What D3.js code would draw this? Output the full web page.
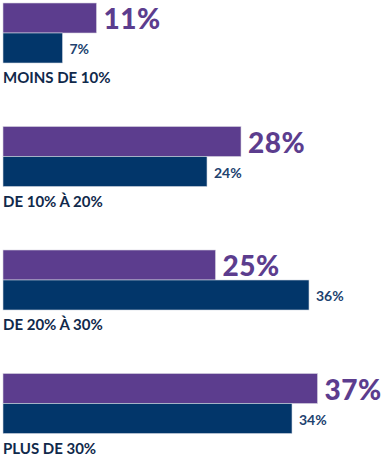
<!DOCTYPE html>
<html>
<head>
<meta charset="utf-8">
<script src="https://cdn.jsdelivr.net/npm/d3@7"></script>
<style>
  html, body { margin: 0; padding: 0; background: #fff; }
  svg { display: block; }
</style>
</head>
<body>
<svg id="chart" width="387" height="464"></svg>
<script>
// data
var categories = ["MOINS DE 10%", "DE 10% À 20%", "DE 20% À 30%", "PLUS DE 30%"];
var valuesA = [11, 28, 25, 37];   // purple, big label
var valuesB = [7, 24, 36, 34];    // navy, small label

var PURPLE = "#5c3d8e", NAVY = "#02366a";
var BAR_H = 30;

var svg = d3.select("#chart");

var x = d3.scaleLinear().domain([0, 37]).range([3, 317.5]);
var y = d3.scaleBand().domain(categories).range([3, 497]);

var g = svg.selectAll("g.group")
  .data(categories.map(function(c, i) { return {cat: c, a: valuesA[i], b: valuesB[i]}; }))
  .enter().append("g")
  .attr("class", "group")
  .attr("transform", function(d) { return "translate(0," + y(d.cat) + ")"; });

g.append("rect")
  .attr("x", x(0)).attr("y", 0)
  .attr("width", function(d) { return x(d.a) - x(0); })
  .attr("height", BAR_H)
  .attr("fill", PURPLE)
  .attr("stroke", "#d8d4e2").attr("stroke-width", 0.6);

g.append("rect")
  .attr("x", x(0)).attr("y", BAR_H)
  .attr("width", function(d) { return x(d.b) - x(0); })
  .attr("height", BAR_H)
  .attr("fill", NAVY)
  .attr("stroke", "#d0d6e0").attr("stroke-width", 0.6);

g.append("text")
  .attr("x", function(d) { return x(d.a) + 7; })
  .attr("y", 26)
  .attr("font-family", "Lato, sans-serif")
  .attr("font-weight", 900)
  .attr("font-size", "28px")
  .attr("letter-spacing", "0.5px")
  .attr("fill", PURPLE)
  .text(function(d) { return d.a + "%"; });

g.append("text")
  .attr("x", function(d) { return x(d.b) + 7; })
  .attr("y", 51)
  .attr("font-family", "Lato, sans-serif")
  .attr("font-weight", 700)
  .attr("font-size", "14px")
  .attr("fill", "#21426f")
  .text(function(d) { return d.b + "%"; });

g.append("text")
  .attr("x", 3)
  .attr("y", 80)
  .attr("font-family", "Lato, sans-serif")
  .attr("font-weight", 700)
  .attr("font-size", "15px")
  .attr("fill", "#10294b")
  .text(function(d) { return d.cat; });
</script>
</body>
</html>
